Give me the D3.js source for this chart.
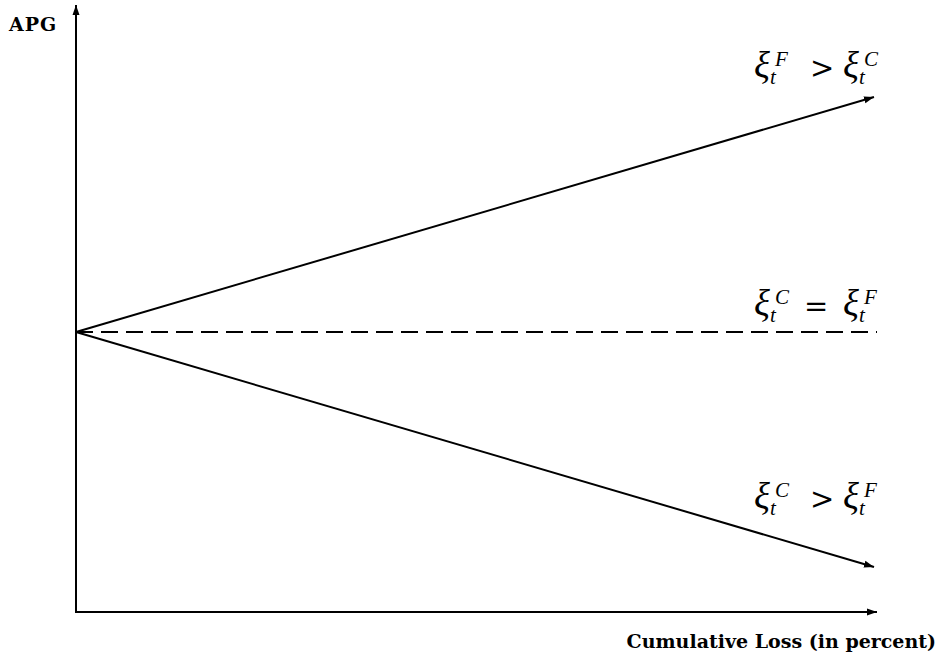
<!DOCTYPE html>
<html>
<head>
<meta charset="utf-8">
<script src="https://cdn.jsdelivr.net/npm/d3@7"></script>
<style>
  body { margin: 0; background: #fff; }
  text { fill: #000; }
</style>
</head>
<body>
<svg width="940" height="660"></svg>
<script>
// lines all start at the origin and end at x = 100
const xEnd = [0, 100];
const upperY = [0, 1];
const flatY = [0, 0];
const lowerY = [0, -1];
const labelA = ["F", "C", "C"];
const labelOp = [">", "=", ">"];
const labelB = ["C", "F", "F"];
const labelLine = [1, 0, -1];
const xTitle = "Cumulative Loss (in percent)";
const yTitle = "APG";

const svg = d3.select("svg");

const x = d3.scaleLinear().domain([0, 100]).range([76, 874]);
const y = d3.scaleLinear().domain([-1, 1]).range([567, 97]);
const yAxisTop = 5, xAxisRight = 877, axisY = 612;

const defs = svg.append("defs");
defs.append("marker")
    .attr("id", "arr")
    .attr("viewBox", "0 0 10 10")
    .attr("refX", 10).attr("refY", 5)
    .attr("markerWidth", 5).attr("markerHeight", 5)
    .attr("markerUnits", "strokeWidth")
    .attr("orient", "auto")
  .append("path")
    .attr("d", "M0,1.5 L10,5 L0,8.5 Z")
    .attr("fill", "#000");

// axes
svg.append("line")
    .attr("x1", 76).attr("y1", axisY)
    .attr("x2", 76).attr("y2", yAxisTop)
    .attr("stroke", "#000").attr("stroke-width", 2)
    .attr("marker-end", "url(#arr)");
svg.append("line")
    .attr("x1", 75).attr("y1", axisY)
    .attr("x2", xAxisRight).attr("y2", axisY)
    .attr("stroke", "#000").attr("stroke-width", 2)
    .attr("marker-end", "url(#arr)");

const line = d3.line()
    .x((d, i) => x(xEnd[i]))
    .y(d => y(d));

svg.append("path").datum(upperY)
    .attr("d", line)
    .attr("fill", "none").attr("stroke", "#000").attr("stroke-width", 2)
    .attr("marker-end", "url(#arr)");
svg.append("path").datum(lowerY)
    .attr("d", line)
    .attr("fill", "none").attr("stroke", "#000").attr("stroke-width", 2)
    .attr("marker-end", "url(#arr)");
svg.append("path").datum(flatY)
    .attr("d", "M" + x(0) + "," + y(0) + "H877")
    .attr("fill", "none").attr("stroke", "#000").attr("stroke-width", 2)
    .attr("stroke-dasharray", "17,8");

// labels (xi_t^a op xi_t^b), placed above the end of each line
const baseShift = [-19, -16, -58];
const x0 = 754;
labelLine.forEach((v, i) => {
  const by = y(v) + baseShift[i];
  const t = svg.append("text")
      .attr("font-family", "Liberation Serif")
      .attr("font-style", "italic");
  const part = (dx, dy, size, txt, normal) => t.append("tspan")
      .attr("x", x0 + dx).attr("y", by + dy)
      .attr("font-size", size)
      .attr("font-style", normal ? "normal" : null)
      .attr("font-family", normal ? "DejaVu Serif" : null)
      .text(txt);
  part(0, 0, 37, "ξ");
  part(16, 6, 21, "t");
  part(21, -12, 21, labelA[i]);
  part(labelOp[i] === "=" ? 50 : 56, 0, 29, labelOp[i], true);
  part(89, 0, 37, "ξ");
  part(105, 6, 21, "t");
  part(110, -12, 21, labelB[i]);
});

svg.append("text")
    .attr("x", 9).attr("y", 31)
    .attr("font-family", "DejaVu Serif")
    .attr("font-weight", "bold")
    .attr("font-size", 19)
    .attr("letter-spacing", 1)
    .text(yTitle);
svg.append("text")
    .attr("x", 936).attr("y", 648)
    .attr("text-anchor", "end")
    .attr("font-family", "DejaVu Serif")
    .attr("font-weight", "bold")
    .attr("font-size", 19)
    .text(xTitle);
</script>
</body>
</html>
